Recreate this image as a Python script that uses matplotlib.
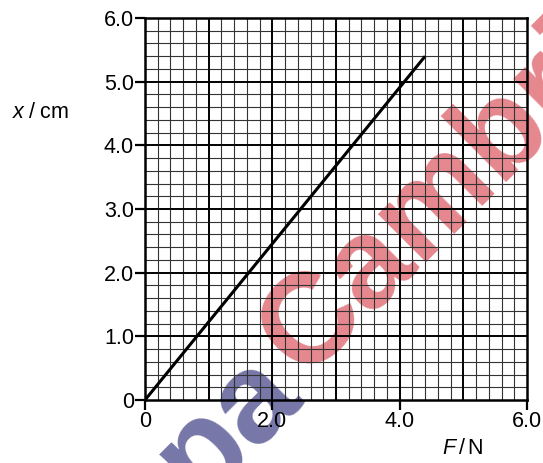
import numpy as np
import matplotlib
matplotlib.use("Agg")
import matplotlib.pyplot as plt
from matplotlib.ticker import FixedLocator

plt.rcParams['font.family'] = ['Liberation Sans', 'DejaVu Sans']
plt.rcParams['mathtext.fontset'] = 'custom'
plt.rcParams['mathtext.rm'] = 'Liberation Sans'
plt.rcParams['mathtext.it'] = 'Liberation Sans:italic'

# Extension x of the spring against applied force F
force_N = [0.0, 4.4]
extension_cm = [0.0, 5.4]

x_ticks = [0, 2.0, 4.0, 6.0]
x_tick_labels = ["0", "2.0", "4.0", "6.0"]
y_ticks = [0, 1.0, 2.0, 3.0, 4.0, 5.0, 6.0]
y_tick_labels = ["0", "1.0", "2.0", "3.0", "4.0", "5.0", "6.0"]

fig = plt.figure(figsize=(5.43, 4.63), dpi=100)
ax = fig.add_axes([145 / 543, 63 / 463, 382 / 543, 382 / 463])
ax.patch.set_alpha(0)

ax.set_xlim(0, 6.0)
ax.set_ylim(0, 6.0)

# graph-paper grid: fine lines every 0.2, bold lines every 1.0
for v in np.arange(0.2, 6.0, 0.2):
    if abs(v - round(v)) < 1e-6:
        continue
    ax.axvline(v, color='#333333', lw=0.8, zorder=1)
    ax.axhline(v, color='#333333', lw=0.8, zorder=1)
for v in range(1, 6):
    ax.axvline(v, color='black', lw=1.4, zorder=1.5)
    ax.axhline(v, color='black', lw=1.4, zorder=1.5)

ax.plot(force_N, extension_cm, color='black', lw=2.2, solid_capstyle='butt', zorder=3)

ax.xaxis.set_major_locator(FixedLocator(x_ticks))
ax.yaxis.set_major_locator(FixedLocator(y_ticks))
ax.set_xticklabels(x_tick_labels)
ax.set_yticklabels(y_tick_labels)
ax.tick_params(which='major', direction='out', length=7, width=1.6, labelsize=15.5,
               colors='black', pad=1)

for s in ax.spines.values():
    s.set_linewidth(1.8)
    s.set_color('black')
    s.set_zorder(4)

fig.text(12 / 543, 1 - 113 / 463, r'$x\;/\;\mathrm{cm}$', fontsize=15.5,
         va='center', ha='left')
fig.text(442 / 543, 1 - 449 / 463, r'$F\,/\,\mathrm{N}$', fontsize=15.5,
         va='center', ha='left')

# publisher watermark, printed underneath the grid
wm = dict(fontsize=92, fontweight='bold', rotation=45, rotation_mode='anchor',
          ha='center', va='center', zorder=-1)
fig.text(228 / 543, 1 - 426 / 463, 'pa', color='#7676a8', **wm)
fig.text(436 / 543, 1 - 200 / 463, 'Cambri', color='#e6878e', **wm)

fig.savefig('out.png', dpi=100)
